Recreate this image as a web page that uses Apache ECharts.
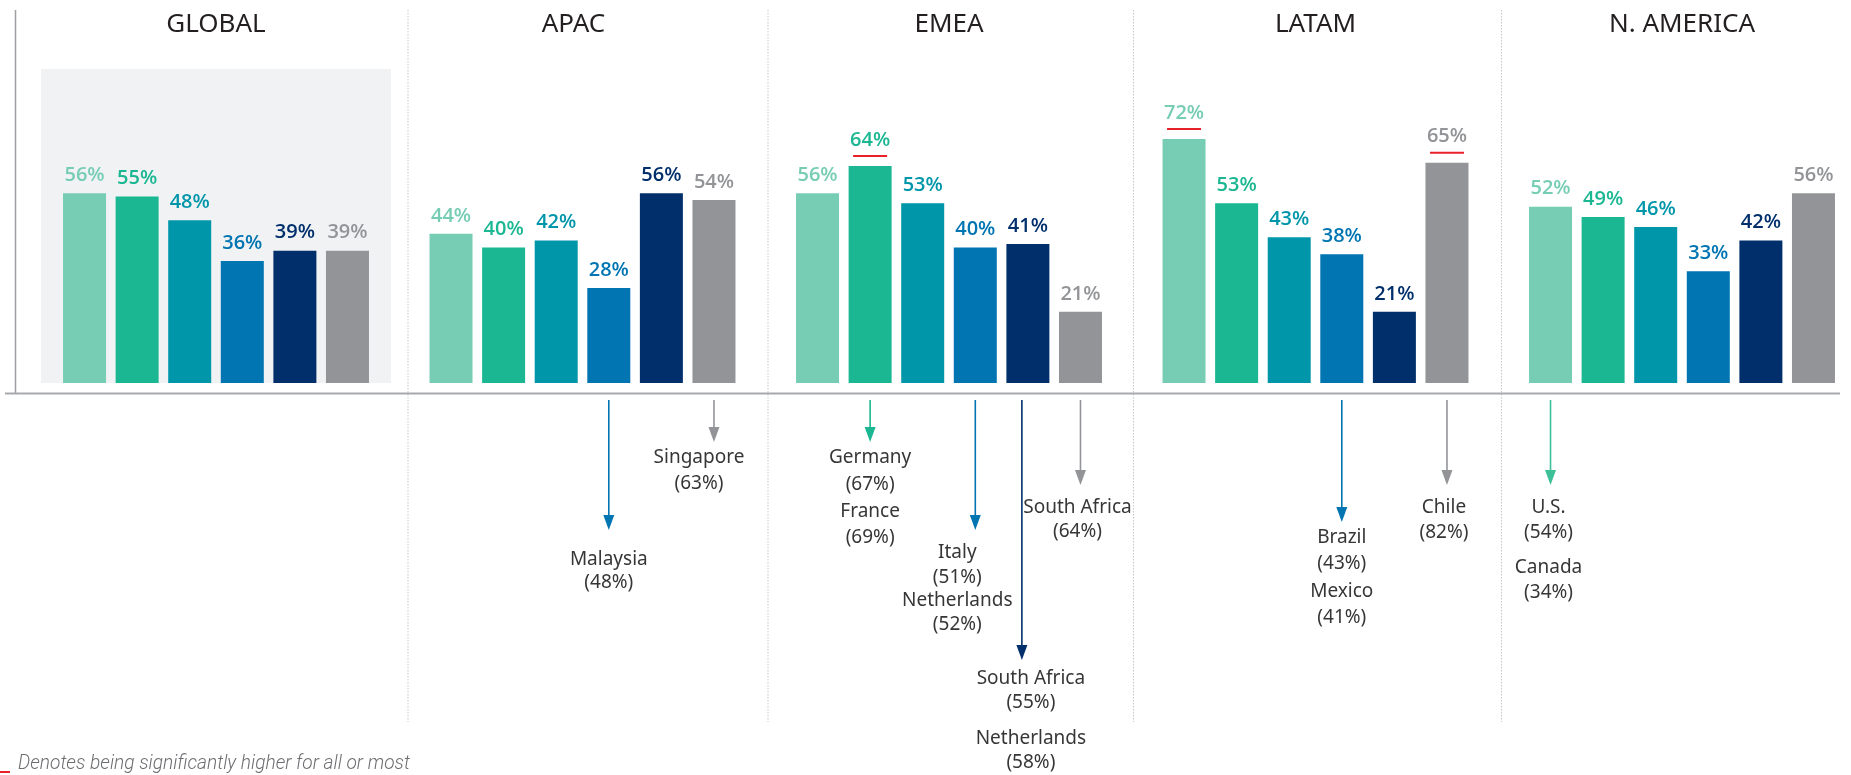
<!DOCTYPE html>
<html>
<head>
<meta charset="utf-8">
<script src="https://cdn.jsdelivr.net/npm/echarts@6/dist/echarts.min.js"></script>
<style>
  html, body { margin: 0; padding: 0; background: #ffffff; }
  #chart { width: 1851px; height: 775px; }
</style>
</head>
<body>
<div id="chart"></div>
<script>
// ---------------- DATA ----------------
const regions = ['GLOBAL', 'APAC', 'EMEA', 'LATAM', 'N. AMERICA'];
// one array per bar series, values per region (percent)
const series1Values = [56, 44, 56, 72, 52];
const series2Values = [55, 40, 64, 53, 49];
const series3Values = [48, 42, 53, 43, 46];
const series4Values = [36, 28, 40, 38, 33];
const series5Values = [39, 56, 41, 21, 42];
const series6Values = [39, 54, 21, 65, 56];
// [regionIndex, seriesIndex] of values marked as significantly higher
const significant = [[2, 1], [3, 0], [3, 5]];
// country call-outs below the baseline: region, series, [country, value]
const callouts = [
  { region: 1, series: 3, items: [['Malaysia', '48%']] },
  { region: 1, series: 5, items: [['Singapore', '63%']] },
  { region: 2, series: 1, items: [['Germany', '67%'], ['France', '69%']] },
  { region: 2, series: 3, items: [['Italy', '51%'], ['Netherlands', '52%']] },
  { region: 2, series: 4, items: [['South Africa', '55%'], ['Netherlands', '58%']] },
  { region: 2, series: 5, items: [['South Africa', '64%']] },
  { region: 3, series: 3, items: [['Brazil', '43%'], ['Mexico', '41%']] },
  { region: 3, series: 5, items: [['Chile', '82%']] },
  { region: 4, series: 0, items: [['U.S.', '54%'], ['Canada', '34%']] }
];
const footnote = 'Denotes being significantly higher for all or most';

// ---------------- STYLE / LAYOUT ----------------
const seriesData = [series1Values, series2Values, series3Values, series4Values, series5Values, series6Values];
const barColors = ['#76cdb4', '#1ab792', '#0096a9', '#0075b2', '#002f6c', '#929497'];
const arrowColors = ['#3dbf98', '#1ab792', '#0096a9', '#0075b2', '#002f6c', '#929497'];
const BAR_W = 43;
const BAR_GAP = 0.223;
// per call-out layout: arrow length, label offset below tip, label dx, arrow dx, line gap, item gap
const calloutLayout = [
  { len: 130, off: 30, dx: 0,   adx: 0,  lg: 23,   ig: 25 },
  { len: 42,  off: 16, dx: -15, adx: 0,  lg: 26,   ig: 26 },
  { len: 42,  off: 16, dx: 0,   adx: 0,  lg: 26.5, ig: 27 },
  { len: 130, off: 23, dx: -18, adx: 0,  lg: 24.5, ig: 23 },
  { len: 260, off: 19, dx: 3,   adx: -6, lg: 24,   ig: 36 },
  { len: 85,  off: 23, dx: -3,  adx: 0,  lg: 24,   ig: 24 },
  { len: 122, off: 16, dx: 0,   adx: 0,  lg: 26,   ig: 28 },
  { len: 85,  off: 23, dx: -3,  adx: 0,  lg: 25,   ig: 25 },
  { len: 85,  off: 23, dx: -2,  adx: 0,  lg: 25,   ig: 35 }
];

const chart = echarts.init(document.getElementById('chart'), null, { renderer: 'canvas' });

function isSignificant(r, s) {
  return significant.some(p => p[0] === r && p[1] === s);
}

const barSeries = seriesData.map((vals, s) => ({
  type: 'bar',
  name: 'S' + (s + 1),
  data: vals,
  barWidth: BAR_W,
  barGap: (BAR_GAP * 100) + '%',
  itemStyle: { color: barColors[s] },
  z: 3,
  label: {
    show: true,
    position: 'top',
    distance: 6,
    formatter: p => isSignificant(p.dataIndex, s)
      ? '{v|' + p.value + '%}\n{u| }'
      : '{v|' + p.value + '%}',
    rich: {
      v: { fontFamily: 'Open Sans', fontWeight: 600, fontSize: 20, lineHeight: 24, color: barColors[s] },
      u: { width: 34, height: 2, lineHeight: 8, backgroundColor: '#e8202a', fontSize: 2 }
    }
  }
}));

const TOTAL_W = 6 * BAR_W + 5 * BAR_W * BAR_GAP;
function barOffset(s) {
  return -TOTAL_W / 2 + s * BAR_W * (1 + BAR_GAP) + BAR_W / 2;
}

const calloutSeries = {
  type: 'custom',
  coordinateSystem: 'cartesian2d',
  silent: true,
  z: 5,
  data: callouts.map(c => [c.region, 0, c.series]),
  renderItem: function (params, api) {
    const i = params.dataIndex;
    const c = callouts[i];
    const L = calloutLayout[i];
    const p = api.coord([c.region, 0]);
    const base = p[1] + 10;
    const x = p[0] + barOffset(c.series) + L.adx;
    const y0 = base + 7;
    const tip = y0 + L.len;
    const col = arrowColors[c.series];
    const children = [
      { type: 'line', shape: { x1: x, y1: y0, x2: x, y2: tip - 12 }, style: { stroke: col, lineWidth: 1.6 } },
      { type: 'polygon', shape: { points: [[x - 5.5, tip - 15], [x + 5.5, tip - 15], [x, tip]] }, style: { fill: col } }
    ];
    let y = tip + L.off;
    c.items.forEach((it, k) => {
      if (k > 0) y += L.ig;
      children.push({ type: 'text', style: { text: it[0], x: x - L.adx + L.dx, y: y, align: 'center', verticalAlign: 'middle', font: '19px "Noto Sans"', fill: '#363636' } });
      y += L.lg;
      children.push({ type: 'text', style: { text: '(' + it[1] + ')', x: x - L.adx + L.dx, y: y, align: 'center', verticalAlign: 'middle', font: '19px "Noto Sans"', fill: '#363636' } });
    });
    return { type: 'group', children: children };
  }
};

// footnote horizontal scaling to mimic condensed light italic face
const mctx = document.createElement('canvas').getContext('2d');
const FOOT_FONT = 'italic 300 21px Roboto';
mctx.font = FOOT_FONT;
const footScale = 392 / mctx.measureText(footnote).width;

const separatorsX = [408, 768, 1133.5, 1501.5];

const graphics = [
  { type: 'rect', z: -10, silent: true, shape: { x: 41, y: 69, width: 350, height: 314 }, style: { fill: '#f1f2f4' } },
  { type: 'line', silent: true, shape: { x1: 15.5, y1: 10, x2: 15.5, y2: 393 }, style: { stroke: '#9d9fa2', lineWidth: 1.5 } },
  { type: 'line', silent: true, shape: { x1: 5, y1: 393.5, x2: 1840, y2: 393.5 }, style: { stroke: '#a7a9ac', lineWidth: 2 } },
  { type: 'line', silent: true, shape: { x1: 0, y1: 772, x2: 10, y2: 772 }, style: { stroke: '#e8202a', lineWidth: 2 } },
  { type: 'text', silent: true, x: 18, y: 764, scaleX: footScale, style: { text: footnote, x: 0, y: 0, font: FOOT_FONT, fill: '#6d6e71', verticalAlign: 'middle' } }
].concat(separatorsX.map(sx => ({
  type: 'line', silent: true, z: -5,
  shape: { x1: sx, y1: 10, x2: sx, y2: 722 },
  style: { stroke: '#c4c6c8', lineWidth: 1, lineDash: [1.5, 1.5] }
})));

chart.setOption({
  animation: false,
  backgroundColor: '#ffffff',
  // category points (boundaryGap false) at the group centres
  grid: { left: 216, top: 44, width: 1466, height: 339, containLabel: false },
  xAxis: {
    type: 'category',
    data: regions,
    boundaryGap: false,
    position: 'top',
    axisLine: { show: false },
    axisTick: { show: false },
    axisLabel: {
      fontFamily: 'Noto Sans', fontSize: 26, color: '#231f20', lineHeight: 30, margin: 4, interval: 0,
      formatter: v => v === 'APAC' ? '{a|' + v + '}' : v,
      rich: { a: { fontFamily: 'Noto Sans', fontSize: 26, color: '#231f20', lineHeight: 30, padding: [0, 18, 0, 0] } }
    },
    splitLine: { show: false }
  },
  yAxis: {
    type: 'value', min: 0, max: 100, interval: 20,
    show: false,
    splitLine: { show: false }
  },
  series: barSeries.concat([calloutSeries]),
  graphic: graphics
});
</script>
</body>
</html>
